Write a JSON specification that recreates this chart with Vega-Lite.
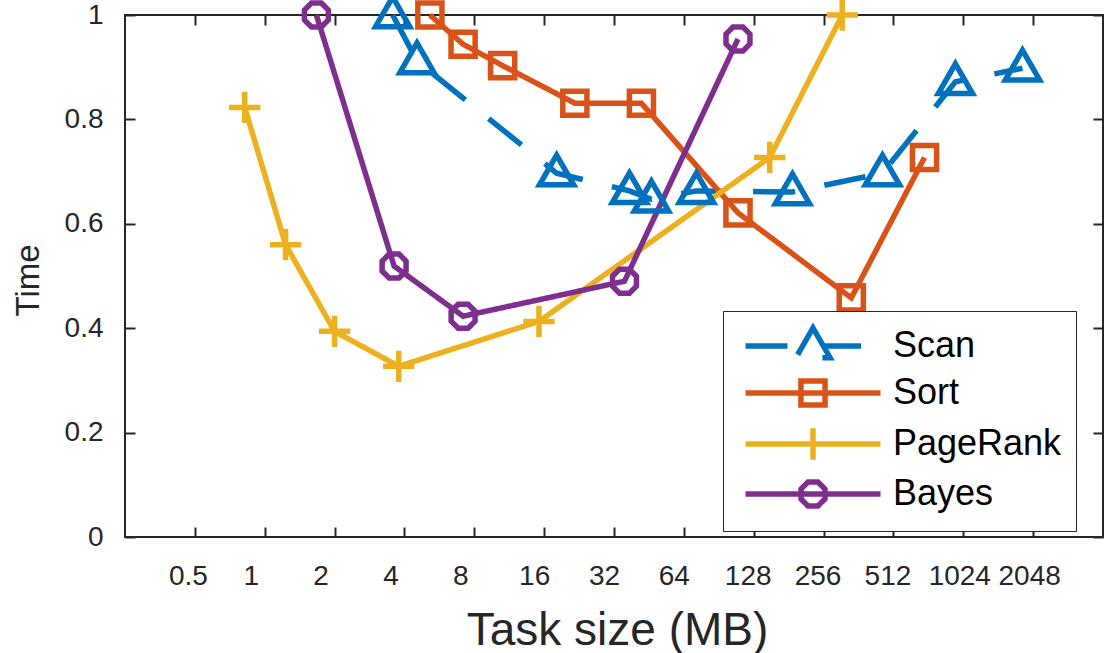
{
  "$schema": "https://vega.github.io/schema/vega-lite/v6.json",
  "width": 978,
  "height": 522,
  "autosize": {"type": "none"},
  "padding": {"left": 125, "top": 15, "right": 4, "bottom": 116},
  "background": "white",
  "config": {
    "font": "Liberation Sans",
    "view": {"stroke": "#262626", "strokeWidth": 2},
    "axis": {"grid": false, "domain": false, "tickColor": "#262626", "tickWidth": 2, "tickSize": -10, "labelColor": "#262626", "titleColor": "#262626", "titleFontWeight": "normal", "labelFlush": false, "labelOverlap": false}
  },
  "data": {
    "values": [
      {"series": "Scan", "size": 3.56, "time": 1.0},
      {"series": "Scan", "size": 4.53, "time": 0.912},
      {"series": "Scan", "size": 18.1, "time": 0.697},
      {"series": "Scan", "size": 37.3, "time": 0.663},
      {"series": "Scan", "size": 46.4, "time": 0.647},
      {"series": "Scan", "size": 72.5, "time": 0.663},
      {"series": "Scan", "size": 188, "time": 0.661},
      {"series": "Scan", "size": 459, "time": 0.697},
      {"series": "Scan", "size": 947, "time": 0.872},
      {"series": "Scan", "size": 1842, "time": 0.898},
      {"series": "Sort", "size": 5.15, "time": 1.0},
      {"series": "Sort", "size": 7.16, "time": 0.944},
      {"series": "Sort", "size": 10.6, "time": 0.903},
      {"series": "Sort", "size": 21.7, "time": 0.831},
      {"series": "Sort", "size": 42, "time": 0.831},
      {"series": "Sort", "size": 109.5, "time": 0.621},
      {"series": "Sort", "size": 337, "time": 0.458},
      {"series": "Sort", "size": 697, "time": 0.727},
      {"series": "PageRank", "size": 0.82, "time": 0.823},
      {"series": "PageRank", "size": 1.23, "time": 0.56},
      {"series": "PageRank", "size": 2.0, "time": 0.394},
      {"series": "PageRank", "size": 3.78, "time": 0.327},
      {"series": "PageRank", "size": 15.2, "time": 0.413},
      {"series": "PageRank", "size": 150, "time": 0.727},
      {"series": "PageRank", "size": 308, "time": 1.0},
      {"series": "Bayes", "size": 1.67, "time": 1.0},
      {"series": "Bayes", "size": 3.61, "time": 0.519},
      {"series": "Bayes", "size": 7.16, "time": 0.423},
      {"series": "Bayes", "size": 35.5, "time": 0.49},
      {"series": "Bayes", "size": 109.5, "time": 0.954}
    ]
  },
  "layer": [
    {
      "mark": {"type": "line", "strokeWidth": 5.5, "strokeCap": "butt"},
      "encoding": {
        "x": {"field": "size", "type": "quantitative", "scale": {"type": "log", "base": 2, "domain": [0.25, 4096], "nice": false},
          "axis": {"orient": "bottom", "values": [0.5, 1, 2, 4, 8, 16, 32, 64, 128, 256, 512, 1024, 2048], "format": "~g", "labelFontSize": 28, "labelPadding": 35, "labelBaseline": "top",
            "labelOffset": {"condition": [
              {"test": "datum.value < 0.9", "value": -7},
              {"test": "datum.value < 10", "value": -14},
              {"test": "datum.value < 100", "value": -10},
              {"test": "datum.value < 1000", "value": -6}
            ], "value": -4},
            "title": "Task size (MB)", "titleFontSize": 46, "titleX": 492, "titleY": 107, "titleBaseline": "alphabetic", "titleAlign": "center", "titleAnchor": null}},
        "y": {"field": "time", "type": "quantitative", "scale": {"domain": [0, 1], "nice": false, "zero": false},
          "axis": {"orient": "left", "values": [0, 0.2, 0.4, 0.6, 0.8, 1], "format": "~g", "labelFontSize": 28, "labelPadding": 32,
            "title": "Time", "titleFontSize": 33, "titleAngle": -90, "titleX": -87, "titleY": 265, "titleBaseline": "alphabetic", "titleAlign": "center", "titleAnchor": null}},
        "color": {"field": "series", "type": "nominal",
          "scale": {"domain": ["Scan", "Sort", "PageRank", "Bayes"], "range": ["#0072BD", "#D95319", "#EDB120", "#7E2F8E"]},
          "legend": {"title": null, "orient": "none", "legendX": 598, "legendY": 296, "padding": 14, "strokeColor": "#262626", "fillColor": "white", "rowPadding": 0,
            "symbolSize": 1296, "symbolOffset": 55, "labelOffset": 59, "labelFontSize": 36, "labelColor": "#000000", "labelLimit": 400,
            "symbolFillColor": "transparent", "symbolStrokeWidth": 5.5, "symbolDash": [1, 0], "symbolOpacity": 1,
            "encode": {"symbols": {"update": {
              "shape": {"signal": "datum.value === 'Scan' ? 'M-3.75,0L-1.25,0M0.65,0L2.67,0M0,-1L0.95,0.65L-0.95,0.65Z' : datum.value === 'Sort' ? 'M-3.75,0L3.75,0M-0.67,-0.67L0.67,-0.67L0.67,0.67L-0.67,0.67Z' : datum.value === 'PageRank' ? 'M-3.75,0L3.75,0M-0.87,0L0.87,0M0,-0.87L0,0.87' : 'M-3.75,0L3.75,0M-0.276,-0.665L0.276,-0.665L0.665,-0.276L0.665,0.276L0.276,0.665L-0.276,0.665L-0.665,0.276L-0.665,-0.276Z'"},
              "strokeWidth": {"value": 5.5},
              "strokeDash": {"value": [1, 0]}
            }}}}},
        "strokeDash": {"field": "series", "type": "nominal",
          "scale": {"domain": ["Scan", "Sort", "PageRank", "Bayes"], "range": [[42, 30], [1, 0], [1, 0], [1, 0]]}, "legend": null}
      }
    },
    {
      "transform": [{"filter": "datum.series === 'Scan'"}],
      "mark": {"type": "point", "filled": false, "strokeWidth": 5.5, "size": 1296, "opacity": 1, "color": "#0072BD", "shape": "M0,-1L0.95,0.65L-0.95,0.65Z"},
      "encoding": {
        "x": {"field": "size", "type": "quantitative", "axis": null},
        "y": {"field": "time", "type": "quantitative", "axis": null}
      }
    },
    {
      "transform": [{"filter": "datum.series === 'Sort'"}],
      "mark": {"type": "point", "filled": false, "strokeWidth": 5.5, "size": 1296, "opacity": 1, "color": "#D95319", "shape": "M-0.67,-0.67L0.67,-0.67L0.67,0.67L-0.67,0.67Z"},
      "encoding": {
        "x": {"field": "size", "type": "quantitative", "axis": null},
        "y": {"field": "time", "type": "quantitative", "axis": null}
      }
    },
    {
      "transform": [{"filter": "datum.series === 'PageRank'"}],
      "mark": {"type": "point", "filled": false, "strokeWidth": 5.5, "size": 1296, "opacity": 1, "color": "#EDB120", "shape": "M-0.87,0L0.87,0M0,-0.87L0,0.87"},
      "encoding": {
        "x": {"field": "size", "type": "quantitative", "axis": null},
        "y": {"field": "time", "type": "quantitative", "axis": null}
      }
    },
    {
      "transform": [{"filter": "datum.series === 'Bayes'"}],
      "mark": {"type": "point", "filled": false, "strokeWidth": 5.5, "size": 1296, "opacity": 1, "color": "#7E2F8E", "shape": "M-0.276,-0.665L0.276,-0.665L0.665,-0.276L0.665,0.276L0.276,0.665L-0.276,0.665L-0.665,0.276L-0.665,-0.276Z"},
      "encoding": {
        "x": {"field": "size", "type": "quantitative", "axis": null},
        "y": {"field": "time", "type": "quantitative", "axis": null}
      }
    },
    {
      "mark": {"type": "point", "opacity": 0},
      "encoding": {
        "x": {"field": "size", "type": "quantitative", "axis": {"orient": "top", "values": [0.5, 1, 2, 4, 8, 16, 32, 64, 128, 256, 512, 1024, 2048], "labels": false, "title": null}},
        "y": {"field": "time", "type": "quantitative", "axis": {"orient": "right", "values": [0, 0.2, 0.4, 0.6, 0.8, 1], "labels": false, "title": null}}
      }
    }
  ],
  "resolve": {"axis": {"x": "independent", "y": "independent"}}
}
